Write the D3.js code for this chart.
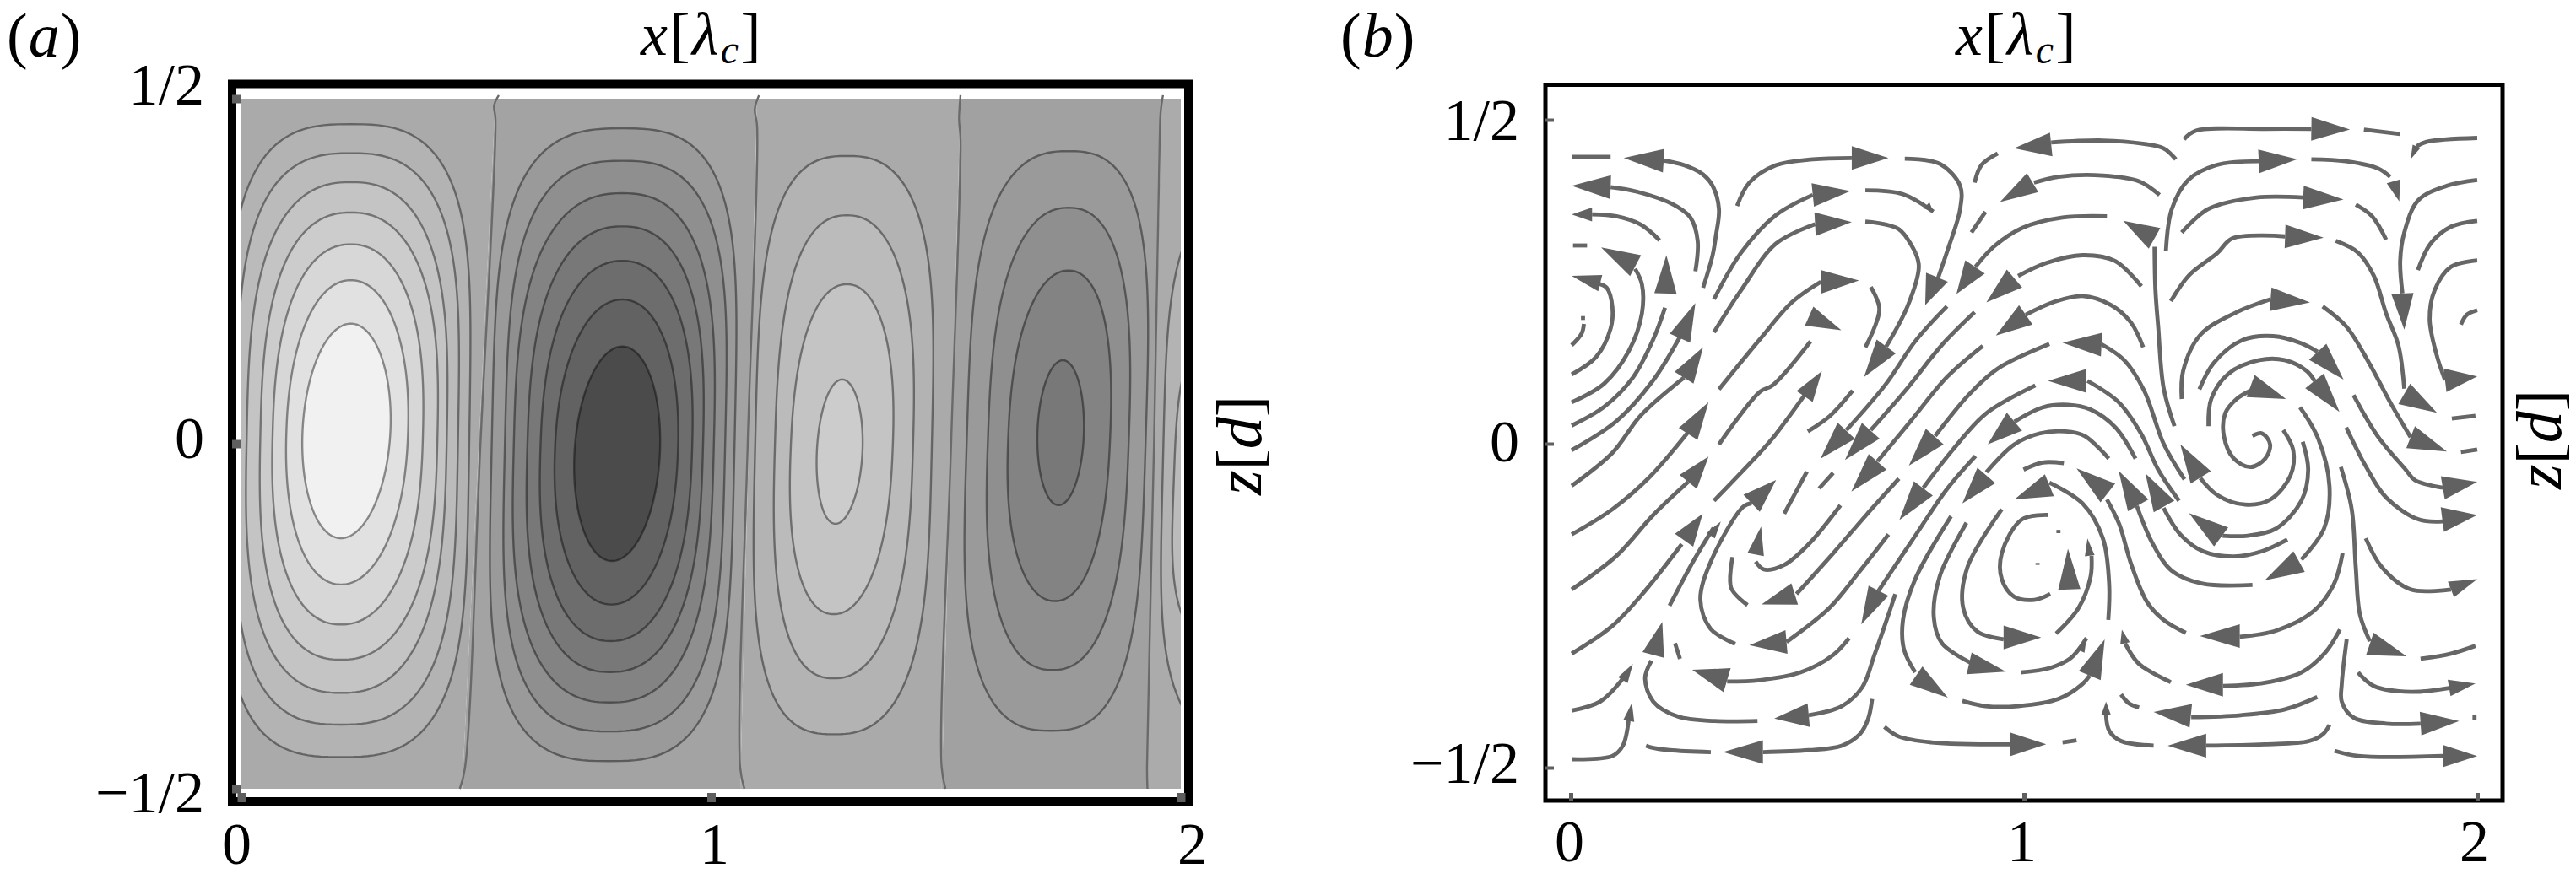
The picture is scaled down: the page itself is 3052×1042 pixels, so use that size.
<!DOCTYPE html>
<html><head><meta charset="utf-8">
<script src="https://cdn.jsdelivr.net/npm/d3@7"></script>
<style>html,body{margin:0;padding:0;background:#fff}svg{display:block}text{font-family:"Liberation Serif",serif;fill:#000}</style>
</head><body><svg id="c" width="3052" height="1042"></svg>
<script>
// ---------- panel (a): contour outlines ----------
// each row: xTopApex, xBottomApex, zTop, zBottom, xLeft(z=0), xRight(z=0), squareness, level
const cell1 = [
 [.233,.212,.463,-.454,-.035,.485,4.2,1],[.233,.212,.421,-.407,-.013,.461,3.7,2],[.233,.212,.379,-.361,.011,.437,3.1,3],
 [.233,.212,.335,-.313,.040,.417,2.8,4],[.233,.212,.289,-.262,.066,.386,2.5,5],[.233,.212,.237,-.204,.095,.354,2.2,6],[.233,.212,.174,-.137,.129,.316,2,7]];
const cell2 = [
 [.811,.782,.457,-.460,.533,1.050,4.2,-1],[.811,.783,.410,-.417,.561,1.030,3.7,-2],[.811,.784,.363,-.375,.580,1.006,3.1,-3],
 [.811,.785,.315,-.331,.609,.983,2.8,-4],[.811,.786,.265,-.286,.637,.960,2.5,-5],[.811,.788,.209,-.233,.668,.930,2.2,-6],[.811,.789,.141,-.170,.710,.892,2,-7]];
const cell3 = [
 [1.289,1.261,.417,-.421,1.094,1.470,3.6,1],[1.289,1.261,.331,-.340,1.136,1.430,2.8,2],[1.289,1.261,.231,-.247,1.170,1.387,2.4,3],[1.279,1.265,.093,-.116,1.226,1.323,2,4]];
const cell4 = [
 [1.761,1.723,.424,-.416,1.544,1.925,3.6,-1],[1.761,1.727,.342,-.328,1.589,1.889,2.8,-2],[1.761,1.732,.251,-.228,1.632,1.849,2.4,-3],[1.749,1.740,.121,-.089,1.694,1.793,2,-4]];
const cell5 = [[2.24,2.21,.39,-.45,1.963,2.477,4.2,1],[2.24,2.21,.22,-.33,1.988,2.452,3.7,2]];
const zeroLines = [
 [[.548,.505],[.538,.49],[.541,.47],[.509,0],[.476,-.47],[.465,-.5]],
 [[1.102,.505],[1.093,.485],[1.098,.46],[1.078,0],[1.062,-.47],[1.071,-.5]],
 [[1.531,.505],[1.528,.47],[1.531,.44],[1.511,0],[1.491,-.47],[1.499,-.5]],
 [[1.962,.505],[1.957,.48],[1.955,.44],[1.943,0],[1.928,-.47],[1.929,-.5]]];
const bandEdges = [[0,0],[.541,.470],[1.098,1.062],[1.531,1.491],[1.959,1.928],[2,2]];
const bandLevels = [0,-.6,0,-.7,.1];
const shadeLevels = [-7,-6,-4,-1,-.6,0,1,4,6,7];
const shadeGrays  = [75,98,120,154,163,170,179,204,225,241];

// ---------- panel (b): streamlines [x, z] ----------
const streamlines = [
 [[.002,.443],[.088,.443]],
 [[.205,.437],[.25,.43],[.291,.416],[.313,.398],[.327,.362],[.32,.32],[.313,.291],[.292,.241]],
 [[.088,.396],[.146,.389],[.227,.369],[.264,.349],[.280,.313],[.275,.266]],
 [[.047,.354],[.101,.351],[.155,.338],[.196,.314]],
 [[.005,.306],[.036,.306]],
 [[.002,.064],[.074,.093],[.128,.143],[.157,.201],[.157,.246],[.142,.270]],
 [[.002,.107],[.056,.134],[.088,.178],[.092,.210],[.079,.241],[.056,.248]],
 [[.002,.152],[.024,.170],[.029,.185]],
 [[.027,.191],[.027,.197]],
 [[.002,.028],[.074,.057],[.137,.102],[.182,.161],[.208,.210]],
 [[.002,-.010],[.101,.035],[.182,.098],[.241,.165]],
 [[.002,-.065],[.092,-.014],[.155,.044],[.250,.102]],
 [[.002,-.140],[.092,-.101],[.173,-.052],[.259,.018]],
 [[.002,-.225],[.101,-.173],[.182,-.110],[.259,-.059]],
 [[.002,-.324],[.092,-.281],[.164,-.227],[.245,-.155]],
 [[.002,-.412],[.065,-.398],[.110,-.367],[.125,-.35]],
 [[.002,-.487],[.092,-.482],[.115,-.466],[.128,-.425]],
 [[.178,-.335],[.164,-.362],[.182,-.398],[.236,-.421],[.318,-.428],[.412,-.428]],
 [[.230,-.308],[.241,-.332]],
 [[.218,-.250],[.273,-.178],[.315,-.13]],
 [[.363,-.309],[.309,-.286],[.286,-.241],[.309,-.182],[.381,-.097],[.399,-.092]],
 [[.390,-.249],[.354,-.223],[.357,-.175]],
 [[.408,-.182],[.426,-.194],[.471,-.187],[.525,-.155],[.595,-.095]],
 [[.471,-.108],[.521,-.043]],
 [[.548,-.069],[.579,-.045]],
 [[.498,-.232],[.579,-.169],[.652,-.110],[.724,-.054]],
 [[.476,-.306],[.570,-.254],[.634,-.200],[.701,-.140]],
 [[.345,-.367],[.417,-.365],[.507,-.353],[.579,-.326],[.614,-.300]],
 [[.525,-.419],[.598,-.405],[.643,-.376],[.670,-.326],[.697,-.272],[.716,-.232]],
 [[.679,-.227],[.762,-.140],[.830,-.070],[.893,-.019]],
 [[.737,.440],[.814,.432],[.859,.398],[.859,.362],[.832,.300],[.810,.255]],
 [[.893,.273],[.933,.304],[.996,.333],[1.085,.349],[1.183,.351]],
 [[.987,.259],[1.049,.279],[1.129,.291],[1.201,.282],[1.259,.243]],
 [[1.004,.199],[1.067,.219],[1.129,.228],[1.192,.214],[1.236,.187],[1.263,.149]],
 [[1.170,.154],[1.221,.129],[1.265,.082],[1.308,0],[1.354,-.055]],
 [[1.140,.097],[1.209,.064],[1.258,.016],[1.296,-.040],[1.342,-.088]],
 [[.979,.034],[1.041,.056],[1.097,.060],[1.146,.053],[1.202,.025],[1.246,-.023]],
 [[.917,-.044],[.979,-.001],[1.035,.016],[1.091,.019],[1.134,.012],[1.187,-.023]],
 [[.999,-.040],[1.041,-.029],[1.088,-.030]],
 [[1.056,-.060],[1.129,-.092],[1.174,-.146],[1.188,-.218],[1.186,-.272]],
 [[1.183,-.086],[1.210,-.124],[1.237,-.187],[1.272,-.245],[1.308,-.272],[1.357,-.292]],
 [[1.249,-.096],[1.283,-.153],[1.326,-.196],[1.394,-.216],[1.504,-.218]],
 [[1.308,-.099],[1.345,-.140],[1.395,-.166],[1.463,-.174],[1.525,-.166],[1.581,-.148]],
 [[1.389,-.053],[1.426,-.079],[1.488,-.094],[1.544,-.086],[1.588,-.049],[1.594,-.010],[1.572,.021]],
 [[1.438,-.142],[1.494,-.142],[1.556,-.131],[1.612,-.088],[1.627,-.040],[1.615,.003]],
 [[1.612,-.179],[1.662,-.131],[1.674,-.066],[1.649,.008],[1.609,.056]],
 [[1.504,.012],[1.525,.016],[1.543,-.001],[1.532,-.023],[1.500,-.036],[1.463,-.023],[1.441,.012],[1.444,.047],[1.469,.069],[1.500,.082]],
 [[1.407,.027],[1.413,.069],[1.451,.108],[1.519,.129],[1.575,.129],[1.624,.112],[1.641,.097]],
 [[1.348,.069],[1.351,.112],[1.389,.168],[1.469,.203],[1.544,.223]],
 [[1.387,.084],[1.419,.125],[1.482,.160],[1.550,.166],[1.612,.155],[1.648,.142]],
 [[1.324,.220],[1.364,.260],[1.426,.294],[1.460,.317],[1.576,.320]],
 [[1.348,.326],[1.406,.362],[1.513,.380],[1.616,.380]],
 [[1.313,.297],[1.326,.362],[1.362,.407],[1.424,.430],[1.518,.436]],
 [[1.353,.470],[1.379,.483],[1.531,.486],[1.634,.486]],
 [[1.750,.485],[1.830,.478]],
 [[2.0,.472],[1.888,.466],[1.866,.459]],
 [[1.634,.439],[1.710,.436],[1.781,.425],[1.808,.412]],
 [[1.732,.369],[1.768,.351],[1.799,.315]],
 [[1.688,.313],[1.737,.295],[1.772,.259],[1.799,.201],[1.826,.152],[1.839,.085]],
 [[1.659,.212],[1.711,.181],[1.761,.125],[1.811,.060],[1.853,.010]],
 [[1.964,-.013],[2.0,-.009]],
 [[2.0,.407],[1.933,.398],[1.870,.376],[1.839,.326],[1.830,.282],[1.835,.232]],
 [[2.0,.344],[1.942,.335],[1.897,.309],[1.869,.268]],
 [[2.0,.283],[1.942,.273],[1.906,.237],[1.895,.192],[1.910,.138],[1.929,.098]],
 [[1.964,.184],[1.977,.199],[2.0,.206]],
 [[1.944,.039],[1.996,.043]],
 [[1.727,.075],[1.780,.012],[1.842,-.040],[1.862,-.056],[1.924,-.068]],
 [[1.711,.025],[1.755,-.036],[1.799,-.083],[1.871,-.117],[1.924,-.120]],
 [[1.754,-.146],[1.790,-.191],[1.853,-.225],[1.942,-.225]],
 [[1.699,-.036],[1.723,-.101],[1.732,-.191],[1.741,-.263],[1.763,-.305]],
 [[1.875,-.332],[1.942,-.324],[1.996,-.312]],
 [[1.737,-.353],[1.772,-.374],[1.853,-.383],[1.938,-.377]],
 [[1.712,-.302],[1.701,-.371],[1.701,-.398],[1.728,-.423],[1.799,-.432],[1.875,-.432]],
 [[1.994,-.419],[1.994,-.427]],
 [[1.685,-.474],[1.737,-.482],[1.924,-.482]],
 [[1.476,-.298],[1.558,-.288],[1.638,-.259],[1.683,-.218],[1.703,-.169]],
 [[1.439,-.374],[1.531,-.369],[1.612,-.353],[1.665,-.322],[1.697,-.287]],
 [[1.369,-.422],[1.478,-.419],[1.576,-.410],[1.647,-.391]],
 [[1.402,-.466],[1.531,-.464],[1.629,-.459],[1.660,-.448],[1.674,-.434]],
 [[1.223,-.308],[1.254,-.340],[1.324,-.368]],
 [[1.214,-.387],[1.232,-.401],[1.254,-.407]],
 [[1.181,-.419],[1.188,-.443],[1.214,-.459],[1.286,-.466]],
 [[.692,-.437],[.724,-.452],[.796,-.461],[.969,-.464]],
 [[1.085,-.461],[1.116,-.458]],
 [[.424,-.476],[.525,-.473],[.598,-.466],[.638,-.448],[.656,-.425],[.665,-.394]],
 [[.309,-.476],[.218,-.473],[.178,-.469],[.166,-.466]],
 [[.864,-.397],[.915,-.405],[.987,-.405],[1.076,-.394],[1.129,-.371],[1.145,-.358]],
 [[.760,-.353],[.735,-.317],[.733,-.272],[.760,-.209],[.839,-.112]],
 [[.882,-.338],[.819,-.308],[.801,-.268],[.814,-.205],[.873,-.122]],
 [[.993,-.353],[1.058,-.346],[1.103,-.331],[1.138,-.300]],
 [[.955,-.302],[.897,-.290],[.866,-.254],[.875,-.191],[.951,-.101]],
 [[1.071,-.293],[1.120,-.254],[1.147,-.205],[1.149,-.173]],
 [[1.053,-.110],[.995,-.117],[.951,-.169],[.951,-.209],[.978,-.236],[1.023,-.241],[1.058,-.232]],
 [[1.076,-.133],[1.076,-.138]],
 [[1.030,-.184],[1.030,-.187]],
 [[.608,.021],[.693,.090],[.762,.160],[.830,.212]],
 [[.662,.021],[.743,.086],[.817,.151],[.891,.203]],
 [[.677,-.027],[.749,.034],[.830,.103],[.909,.151]],
 [[.804,.012],[.880,.077],[.942,.116],[1.056,.154]],
 [[.778,-.068],[.842,-.010],[.917,.047],[1.025,.090]],
 [[.523,.019],[.572,.043],[.622,.082]],
 [[.316,-.088],[.417,-.014],[.445,.008],[.516,.075]],
 [[.327,-.001],[.417,.080],[.445,.090],[.529,.158]],
 [[.327,.084],[.417,.161],[.489,.219],[.552,.250]],
 [[.316,.172],[.376,.237],[.453,.309],[.539,.339]],
 [[.316,.223],[.376,.295],[.453,.353],[.534,.384]],
 [[.367,.367],[.394,.403],[.453,.430],[.534,.439],[.620,.441]],
 [[.650,.391],[.733,.385],[.800,.358]],
 [[.761,.294],[.768,.273],[.743,.212],[.696,.150]],
 [[.650,.343],[.724,.331],[.761,.294]],
 [[.662,.242],[.681,.207],[.650,.149]],
 [[.891,.403],[.906,.430],[.942,.448]],
 [[1.060,.465],[1.174,.468],[1.263,.463],[1.308,.456],[1.335,.439]],
 [[1.022,.403],[1.076,.412],[1.174,.414],[1.254,.405],[1.299,.384]],
 [[.884,.326],[.915,.358]],
 [[1.288,.304],[1.290,.237],[1.296,.181],[1.308,.086],[1.332,.027]]
];
// arrowheads: tipX, tipZ, baseX, baseZ, speed
const arrowheads = [
 [.117,.441,.205,.437,.85],[.002,.398,.088,.396,.85],[.002,.354,.047,.354,.5],[.067,.303,.143,.275,.85],
 [.002,.259,.065,.248,.6],[.211,.291,.209,.232,.8],[.275,.217,.241,.163,.8],[.292,.149,.250,.102,.8],
 [.304,.064,.259,.015,.8],[.304,-.020,.259,-.059,.8],[.291,-.108,.250,-.149,.8],[.137,-.340,.115,-.365,.4],
 [.135,-.400,.128,-.428,.4],[.202,-.275,.182,-.326,.8],[.331,-.120,.309,-.142,.35],[.453,-.056,.399,-.092,.85],
 [.420,-.128,.408,-.171,.6],[.421,-.248,.494,-.232,.8],[.394,-.311,.476,-.306,.85],[.268,-.349,.345,-.365,.9],
 [.449,-.424,.525,-.419,.85],[.641,-.279,.679,-.227,.8],[.782,.214,.808,.257,.85],[.851,.231,.892,.273,.85],
 [.917,.218,.979,.255,.85],[.938,.167,1.004,.199,.85],[1.085,.156,1.171,.153,.85],[1.053,.097,1.137,.097,.85],
 [.920,-.001,.979,.034,.85],[.864,-.092,.917,-.049,.85],[.979,-.086,1.056,-.064,.85],[1.116,-.038,1.185,-.076,.85],
 [1.209,-.042,1.252,-.095,.85],[1.268,-.046,1.309,-.097,.85],[1.345,-.001,1.390,-.052,.85],[1.364,-.107,1.435,-.144,.85],
 [1.531,-.211,1.607,-.182,.85],[1.578,.069,1.500,.089,.85],[1.696,.049,1.641,.097,.85],[1.631,.218,1.544,.223,.85],
 [1.705,.099,1.648,.142,.85],[1.661,.318,1.576,.320,.85],[1.705,.377,1.616,.380,.85],[1.603,.439,1.518,.436,.85],
 [1.719,.485,1.634,.486,.85],[1.853,.439,1.866,.459,.3],[1.828,.374,1.815,.405,.5],[1.911,.048,1.839,.077,.85],
 [1.933,-.012,1.853,.010,.85],[1.839,.176,1.835,.232,.8],[2.0,.104,1.929,.098,.85],[2.0,-.059,1.924,-.068,.85],
 [2.0,-.110,1.923,-.117,.9],[2.0,-.209,1.942,-.225,.6],[1.844,-.328,1.763,-.309,.85],[1.996,-.370,1.938,-.377,.6],
 [1.960,-.428,1.875,-.432,.85],[2.0,-.482,1.924,-.482,.8],[1.388,-.297,1.476,-.297,.85],[1.357,-.372,1.439,-.372,.85],
 [1.286,-.414,1.368,-.420,.85],[1.317,-.466,1.402,-.466,.85],[1.216,-.287,1.223,-.308,.35],[1.181,-.398,1.181,-.419,.35],
 [1.049,-.464,.969,-.464,.85],[.336,-.476,.424,-.476,.85],[1.178,-.302,1.145,-.358,.85],[.832,-.392,.762,-.358,.8],
 [.960,-.352,.879,-.339,.8],[1.038,-.299,.955,-.299,.85],[1.140,-.146,1.145,-.173,.35],[1.097,-.162,1.100,-.225,.8],
 [.551,-.023,.608,.020,.85],[.605,-.025,.662,.020,.85],[.619,-.074,.677,-.028,.85],[.746,-.034,.803,.011,.85],
 [.725,-.118,.778,-.069,.85],[.554,.112,.516,.073,.7],[.636,.252,.552,.250,.85],[.620,.342,.539,.339,.85],
 [.617,.390,.534,.384,.85],[.701,.441,.620,.441,.85],[.647,.103,.696,.150,.85],[.597,.175,.526,.197,.75],
 [.978,.456,1.060,.462,.85],[.947,.373,1.019,.403,.8],[1.219,.344,1.288,.317,.85],[.800,.358,.785,.368,.3],[1.138,-.300,1.125,-.320,.3]
];
// axes
const xTickValues = [0,1,2], zTickValues = [.5,0,-.5];
const xTickLabels = ["0","1","2"], zTickLabels = ["1/2","0","\u22121/2"];

// ---------- scales ----------
const svg = d3.select("#c");
const xa = d3.scaleLinear([0,2],[286,1399]), za = d3.scaleLinear([-.5,.5],[935,117]);
const xb = d3.scaleLinear([0,2],[1861,2935]), zb = d3.scaleLinear([-.5,.5],[910,142]);
const shade = d3.scaleLinear(shadeLevels, shadeGrays);
const gray = l => { const g = Math.round(shade(l)); return `rgb(${g},${g},${g})`; };
const headWidth = d3.scaleLinear([0,1],[0,33]);

// ---------- panel (a) ----------
const defs = svg.append("defs");
defs.append("clipPath").attr("id","ca").append("rect")
  .attr("x",xa(0)).attr("y",za(.5)).attr("width",xa(2)-xa(0)).attr("height",za(-.5)-za(.5));
const pa = svg.append("g");
const field = pa.append("g").attr("clip-path","url(#ca)");
bandLevels.forEach((lv,i)=>{
  const a=bandEdges[i], b=bandEdges[i+1];
  field.append("polygon").attr("fill",gray(lv))
    .attr("points",[[a[0],.5],[b[0],.5],[b[1],-.5],[a[1],-.5]].map(p=>[xa(p[0]),za(p[1])].join(",")).join(" "));
});
const outline = r => {
  const [xT,xB,zT,zB,xL,xR,q] = r, pts=[];
  const zc=(zT+zB)/2, bh=(zT-zB)/2, a=(xR-xL)/2;
  const c0 = xB+(xT-xB)*(0-zB)/(zT-zB), shift=(xL+xR)/2-c0;
  const p = 2+Math.min(1,(q-2)/2.5);
  d3.range(240).forEach(k=>{
    const th=k/240*2*Math.PI, t=Math.sin(th), z=zc+bh*t;
    const f=1-Math.pow(Math.abs(t),q);
    const c=xB+(xT-xB)*(z-zB)/(zT-zB)+shift*f;
    pts.push([c+Math.sign(Math.cos(th))*a*Math.pow(Math.max(f,0),1/p), z]);
  });
  return pts;
};
const contourLine = d3.line().x(d=>xa(d[0])).y(d=>za(d[1])).curve(d3.curveLinearClosed);
[cell1,cell2,cell3,cell4,cell5].forEach(cell=>cell.forEach(r=>{
  field.append("path").attr("d",contourLine(outline(r))).attr("fill",gray(r[7]))
    .attr("stroke","#000").attr("stroke-opacity",.42).attr("stroke-width",2.4);
}));
const zeroPath = d3.line().x(d=>xa(d[0])).y(d=>za(d[1])).curve(d3.curveCatmullRom);
pa.selectAll(".zl").data(zeroLines).join("path").attr("d",zeroPath).attr("fill","none")
  .attr("stroke","#6a6a6a").attr("stroke-width",2.4);
pa.append("rect").attr("x",275).attr("y",99.5).attr("width",1133).attr("height",850.5)
  .attr("fill","none").attr("stroke","#000").attr("stroke-width",10);

function ticks(axisG, w){ axisG.select(".domain").remove();
  axisG.selectAll("line").attr("stroke","#5f5f5f").attr("stroke-width",w); axisG.selectAll("text").remove(); }
svg.append("g").attr("transform","translate(0,951)")
  .call(d3.axisTop(xa).tickValues(xTickValues).tickSize(11).tickFormat("")).call(g=>ticks(g,10));
svg.append("g").attr("transform","translate(275,0)")
  .call(d3.axisRight(za).tickValues(zTickValues).tickSize(11).tickFormat("")).call(g=>ticks(g,10));

// ---------- panel (b) ----------
svg.append("rect").attr("x",1831).attr("y",100.5).attr("width",1134).attr("height",848.5)
  .attr("fill","none").attr("stroke","#000").attr("stroke-width",5);
svg.append("g").attr("transform","translate(0,949)")
  .call(d3.axisTop(xb).tickValues(xTickValues).tickSize(9).tickFormat("")).call(g=>ticks(g,5));
svg.append("g").attr("transform","translate(1831,0)")
  .call(d3.axisRight(zb).tickValues(zTickValues).tickSize(10).tickFormat("")).call(g=>ticks(g,4));
const sl = d3.line().x(d=>xb(d[0])).y(d=>zb(d[1])).curve(d3.curveCatmullRom.alpha(.5));
svg.append("g").selectAll("path").data(streamlines).join("path").attr("d",sl)
  .attr("fill","none").attr("stroke","#666").attr("stroke-width",4.8);
svg.append("g").selectAll("polygon").data(arrowheads).join("polygon").attr("fill","#616161")
  .attr("points",d=>{
    const tx=xb(d[0]),ty=zb(d[1]),bx=xb(d[2]),by=zb(d[3]);
    const L=Math.hypot(tx-bx,ty-by)||1, nx=-(ty-by)/L, ny=(tx-bx)/L, w=headWidth(d[4])/2;
    return [[tx,ty],[bx+nx*w,by+ny*w],[bx-nx*w,by-ny*w]].map(p=>p.join(",")).join(" ");
  });

// ---------- tick labels ----------
function labels(xl,zl,xBase,zRight,anchorSize){
  const gx=svg.append("g").attr("transform",`translate(0,${xBase})`)
    .call(d3.axisBottom(xl).tickValues(xTickValues).tickSize(0).tickPadding(0).tickFormat((d,i)=>xTickLabels[i]));
  const gz=svg.append("g").attr("transform",`translate(${zRight},0)`)
    .call(d3.axisLeft(zl).tickValues(zTickValues).tickSize(0).tickPadding(0).tickFormat((d,i)=>zTickLabels[i]));
  [gx,gz].forEach(g=>{ g.select(".domain").remove();
    g.attr("font-family",null).attr("font-size",null);
    g.selectAll("text").attr("y",null).attr("dy",0).attr("font-size",anchorSize)
     .attr("font-family",'"Liberation Serif",serif').attr("fill","#000"); });
}
labels(d3.scaleLinear([0,2],[280,1412]), d3.scaleLinear([-.5,.5],[962,123]), 1024, 242, 70);
labels(d3.scaleLinear([0,2],[1859,2931]), d3.scaleLinear([-.5,.5],[927,165]), 1021, 1800, 70);

// ---------- titles ----------
function xTitle(x,y){
  const t=svg.append("text").attr("x",x).attr("y",y).attr("font-size",72).attr("letter-spacing",2.5);
  t.append("tspan").attr("font-style","italic").text("x");
  t.append("tspan").text("[");
  t.append("tspan").attr("font-style","italic").text("\u03BB");
  t.append("tspan").attr("font-style","italic").attr("font-size",48).attr("dy",10).text("c");
  t.append("tspan").attr("dy",-10).text("]");
}
xTitle(759,65); xTitle(2317,65);
function zTitle(x,y){
  const t=svg.append("text").attr("transform",`translate(${x},${y}) rotate(-90)`).attr("text-anchor","middle").attr("font-size",76);
  t.append("tspan").attr("font-style","italic").text("z");
  t.append("tspan").text("[");
  t.append("tspan").attr("font-style","italic").text("d");
  t.append("tspan").text("]");
}
zTitle(1494,528); zTitle(3034,521);
function tag(x,l){
  const t=svg.append("text").attr("x",x).attr("y",67).attr("font-size",74).attr("letter-spacing",1);
  t.append("tspan").text("(");
  t.append("tspan").attr("font-style","italic").text(l);
  t.append("tspan").text(")");
}
tag(8,"a"); tag(1588,"b");
</script></body></html>
